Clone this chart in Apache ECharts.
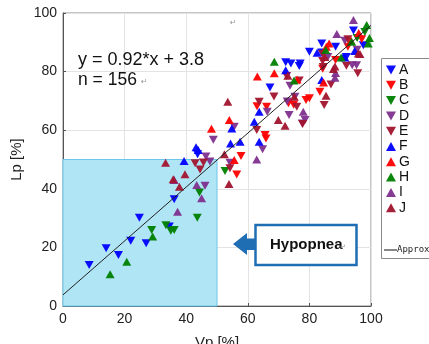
<!DOCTYPE html>
<html><head><meta charset="utf-8">
<script src="https://cdn.jsdelivr.net/npm/echarts@6/dist/echarts.min.js"></script>
<style>html,body{margin:0;padding:0;background:#fff}#c{width:429px;height:344px}</style>
</head><body><div id="c"></div>
<script>
const xTicks = [0, 20, 40, 60, 80, 100];
const yTicks = [0, 20, 40, 60, 80, 100];
const seriesNames = ['A','B','C','D','E','F','G','H','I','J'];
const A = [[8.5,14],[14,19.7],[18,17.4],[22,22.3],[24.8,30.1],[27,21.4],[34.5,27.1],[36.1,36.4],[43.7,51.8],[67.2,74.6],[72.3,83.2],[74,82.8],[76.7,81.9],[80,86.8],[77,82.8],[84,89.6],[94.3,94],[92,85],[97.5,89],[84,86.5],[88.5,88.5]];
const B = [[56.4,44.9],[57.8,51.2],[65.6,58.4],[65.9,57.2],[66.1,68],[63,68.2],[73.2,69.2],[74.9,68.7],[78.9,70.3],[80,70.9],[83.4,73.1],[84.3,81],[97,91],[92.5,88.5],[88.5,84]];
const C = [[28.8,25.9],[33.4,27.6],[35,25.7],[36.1,25.9],[43.6,30.1],[44.3,38.7],[52.6,46.1],[98,93.5],[95.5,91.5]];
const D = [[46.1,41],[46.4,51],[47.7,49.3],[48.8,56.7],[54.2,48.9],[55.6,61.2],[64.8,53.5],[66.3,66.3],[73.7,75.2],[72.8,69.8],[73.4,65.2],[75.3,71.4],[77.7,62.3],[78.6,63.5],[91.5,90.5],[93.9,82.2],[95.3,82.2],[86,85],[95.5,87.5]];
const E = [[42.9,48.7],[44.5,46.6],[45.6,49],[54.2,47],[62.9,60.1],[63.7,69.7],[72.6,78.5],[75.9,68],[77.8,62.1],[84.8,68.6],[87,75.6],[84.5,81.6],[95.7,79.4],[84.3,86],[92.5,91],[92,82],[76.7,77],[84.3,83.6],[68.5,71.5]];
const F = [[39.3,49.5],[43.2,54.2],[43.9,53.2],[54.4,55.5],[57.5,56.1],[54.8,60.6],[62.1,62.9],[63.7,66.3],[63.7,56.1],[72.3,80.5],[84,77.1],[82.5,86.4],[91,85],[94.7,87],[91.5,84.8]];
const G = [[48.2,60.5],[54,63.5],[55.6,49.8],[63.1,78.3],[68.6,79.4],[76,77.3],[84.6,76.3],[86.4,89.6],[96,93.2],[93.5,90.5],[85.5,88.5]];
const H = [[15.3,10.8],[20.7,15.1],[29.1,23.7],[68.6,83.4],[75,77],[85.3,87.4],[90.3,84.8],[93.7,90.2],[98.6,95.9],[99.1,89.6],[99.5,91.5]];
const I = [[36.1,43],[37.2,32.2],[43.4,41.3],[45,36.8],[62.9,50],[78,66.3],[88.3,77.9],[88.9,92.8],[94.3,97.6],[88.5,79.5]];
const J = [[33.3,48.9],[37.8,40.7],[39.6,45],[52.4,51.8],[53.5,69.7],[53.9,41.6],[69.9,63.5],[72.1,61.5],[73,78.6],[75.1,71.4],[85.4,71.8],[87.8,80.9],[85,85],[95.9,86.2],[88.3,81.7],[96.4,86],[35.8,43.3]];
const fitSlope = 0.92, fitIntercept = 3.8;
const fitX = [0, 100];
const hypoX = [0, 50], hypoY = [0, 50];

const dataMap = {A,B,C,D,E,F,G,H,I,J};
const colors = {A:'#0000ff',B:'#ff0000',C:'#007f00',D:'#7e2f8e',E:'#a2142f',F:'#0000ff',G:'#ff0000',H:'#007f00',I:'#7e2f8e',J:'#a2142f'};
const downTri = 'path://M0,0 L10,0 L5,9 Z';
const upTri = 'path://M5,0 L10,9 L0,9 Z';
const isDown = n => 'ABCDE'.includes(n);

const series = [];
series.push({
  name: 'hypo', type: 'line', data: [], silent: true,
  markArea: { silent: true, itemStyle: { color: '#b0e5f6', borderColor: '#6cc6ea', borderWidth: 1 },
    data: [[{coord:[hypoX[0], hypoY[0]]},{coord:[hypoX[1], hypoY[1]]}]] }
});
seriesNames.forEach(n => {
  series.push({
    name: n, type: 'scatter', data: dataMap[n],
    symbol: isDown(n) ? downTri : upTri, symbolSize: [9, 8],
    itemStyle: { color: colors[n], opacity: 0.95 }
  });
});
series.push({
  name: 'Approx', type: 'line', showSymbol: false, symbol: 'none',
  data: fitX.map(x => [x, fitSlope * x + fitIntercept]),
  lineStyle: { color: '#222', width: 1 }, z: 5
});

const chart = echarts.init(document.getElementById('c'), null, {renderer: 'canvas'});
chart.setOption({
  animation: false,
  textStyle: { fontFamily: 'Liberation Sans, Arial, sans-serif' },
  grid: { left: 63, right: 58, top: 13, bottom: 38, show: true, borderColor: '#8a8a8a', borderWidth: 1, outerBoundsMode: 'none', containLabel: false },
  xAxis: {
    type: 'value', min: xTicks[0], max: xTicks[xTicks.length-1], interval: 20,
    name: 'Vp [%]', nameLocation: 'middle', nameGap: 29, nameMoveOverlap: false,
    nameTextStyle: { fontSize: 15, color: '#222' },
    axisLine: { show: true, lineStyle: { color: '#555' } },
    axisTick: { show: true, inside: true, length: 3, lineStyle: { color: '#555' } },
    axisLabel: { fontSize: 14, color: '#222', margin: 6 },
    splitLine: { show: true, lineStyle: { color: '#e3e3e3' } }
  },
  yAxis: {
    type: 'value', min: yTicks[0], max: yTicks[yTicks.length-1], interval: 20,
    name: 'Lp [%]', nameLocation: 'middle', nameGap: 39, nameRotate: 90, nameMoveOverlap: false,
    nameTextStyle: { fontSize: 15, color: '#222' },
    axisLine: { show: true, lineStyle: { color: '#555' } },
    axisTick: { show: true, inside: true, length: 3, lineStyle: { color: '#555' } },
    axisLabel: { fontSize: 14, color: '#222', margin: 6 },
    splitLine: { show: true, lineStyle: { color: '#e3e3e3' } }
  },
  legend: {
    orient: 'vertical', left: 386, top: 63, itemGap: 1.3, itemWidth: 10, itemHeight: 9,
    padding: 0, data: seriesNames.map(n => ({ name: n, icon: isDown(n) ? downTri : upTri })),
    textStyle: { fontSize: 14, lineHeight: 14, color: '#111', padding: [0,0,0,-2] }, selectedMode: false
  },
  graphic: [
    { type: 'rect', shape: { x: 381.5, y: 58.5, width: 60, height: 200 }, style: { fill: 'none', stroke: '#888', lineWidth: 1 }, z: 1 },
    { type: 'line', shape: { x1: 384, y1: 250, x2: 397, y2: 250 }, style: { stroke: '#111', lineWidth: 1 } },
    { type: 'text', x: 397, y: 250, style: { text: 'Approx', font: '9px DejaVu Sans Mono', fill: '#222', textVerticalAlign: 'middle' } },
    { type: 'text', x: 78, y: 60, style: { text: 'y = 0.92*x + 3.8', font: '18px Liberation Sans', fill: '#111', textVerticalAlign: 'middle' }, z: 10 },
    { type: 'text', x: 78, y: 80, style: { text: 'n = 156', font: '17.5px Liberation Sans', fill: '#111', textVerticalAlign: 'middle' }, z: 10 },
    { type: 'text', x: 141, y: 82, style: { text: '↵', font: '8px DejaVu Sans', fill: '#999', textVerticalAlign: 'middle' }, z: 10 },
    { type: 'text', x: 230, y: 23, style: { text: '↵', font: '8px DejaVu Sans', fill: '#999', textVerticalAlign: 'middle' }, z: 10 },
    { type: 'polygon', shape: { points: [[233,244],[247,233],[247,238.5],[256,238.5],[256,250],[247,250],[247,255]] }, style: { fill: '#1f6eb4' }, z: 10 },
    { type: 'rect', shape: { x: 255.5, y: 225, width: 101, height: 40 }, style: { fill: '#fff', stroke: '#1f6eb4', lineWidth: 2.5 }, z: 10 },
    { type: 'text', x: 270, y: 245, style: { text: 'Hypopnea', font: 'bold 15px Liberation Sans', fill: '#111', textVerticalAlign: 'middle' }, z: 11 },
    { type: 'text', x: 340, y: 247, style: { text: '↵', font: '7px DejaVu Sans', fill: '#999', textVerticalAlign: 'middle' }, z: 11 }
  ],
  series: series
});
</script></body></html>
